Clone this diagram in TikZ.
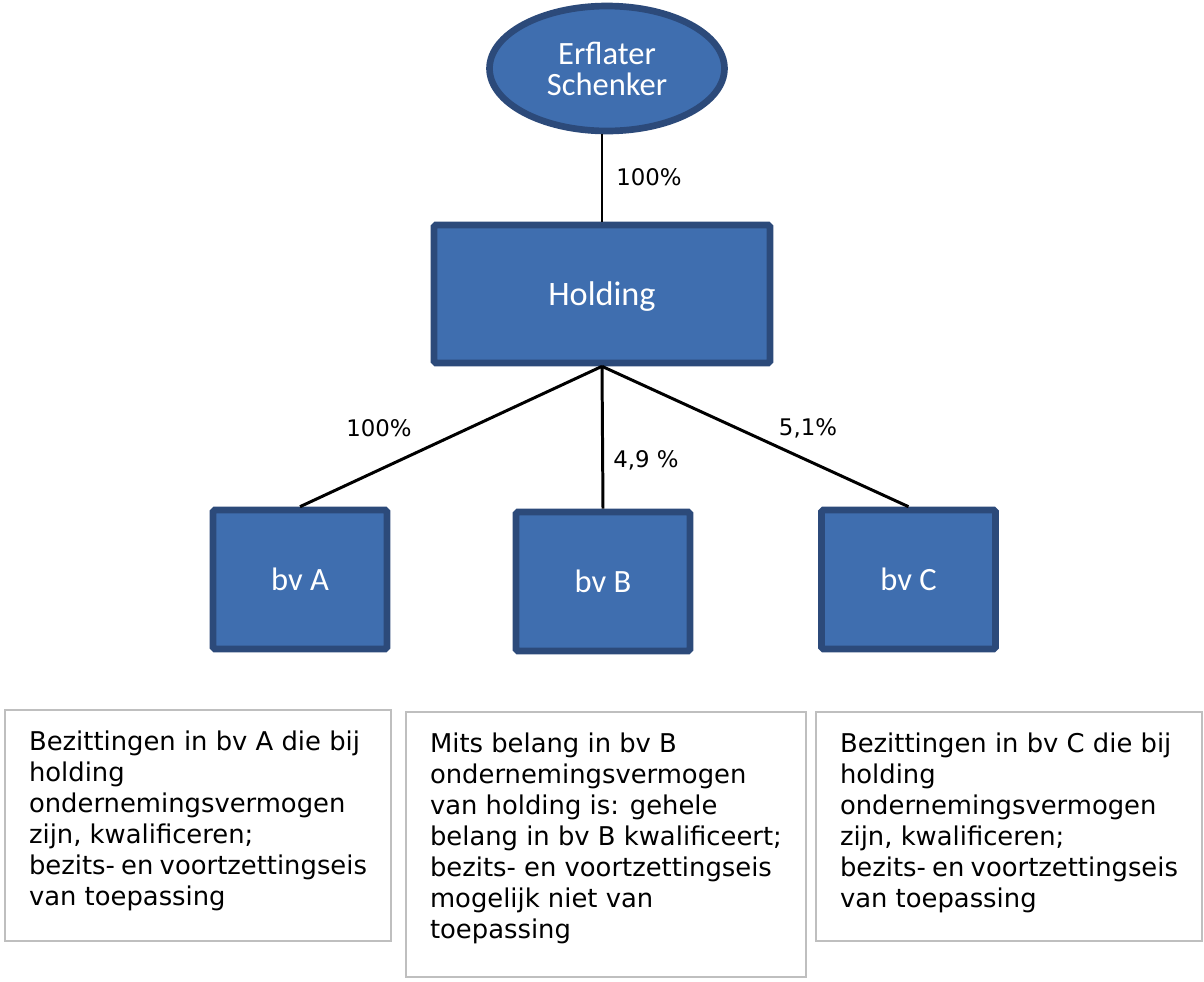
\documentclass[tikz,border=0pt]{standalone}
\usepackage{fontspec}
\setmainfont{DejaVu Sans}
\newfontfamily\knotenfont{Carlito}
\usetikzlibrary{shapes.geometric}

\definecolor{knotenblau}{RGB}{63,110,175}
\definecolor{randblau}{RGB}{44,74,122}
\definecolor{randgrau}{RGB}{191,191,191}

\begin{document}
\begin{tikzpicture}[x=0.02cm, y=-0.02cm,
        einheit/.style={draw=randblau, fill=knotenblau, line width=3.8pt, rounded corners=1pt, inner sep=0pt,
            text=white, font=\knotenfont\fontsize{18.5}{17.6}\selectfont},
        verbindung/.style={line width=1.7pt},
        anteil/.style={font=\fontsize{13}{15}\selectfont},
        hinweis/.style={draw=randgrau, line width=1.2pt, anchor=north west, inner xsep=0.48cm, inner ysep=0.42cm,
            font=\fontsize{14.7}{17.6}\selectfont}]
    \useasboundingbox (0, 0) rectangle (1204, 981);

    % Erblasser und Holding
    \node[einheit, ellipse, minimum width=4.7cm, minimum height=2.5cm, align=center, text depth=0pt] (erflater) at (607, 68.5) {Erflater\\Schenker};
    \node[einheit, minimum width=6.72cm, minimum height=2.76cm, text depth=0pt, font=\knotenfont\fontsize{19.5}{20}\selectfont] (holding) at (602, 294) {Holding};

    % Tochtergesellschaften
    \node[einheit, minimum width=3.48cm, minimum height=2.78cm] (bvA) at (300, 579.5) {bv A};
    \node[einheit, minimum width=3.48cm, minimum height=2.78cm] (bvB) at (603, 581.5) {bv B};
    \node[einheit, minimum width=3.48cm, minimum height=2.78cm] (bvC) at (908.5, 579.5) {bv C};

    % Beteiligungen
    \draw[verbindung] (holding.north) -- (holding.north |- erflater.south);
    \draw[verbindung] (holding.south) -- (bvA.north);
    \draw[verbindung] (holding.south) -- (bvB.north);
    \draw[verbindung] (holding.south) -- (bvC.north);
    \node[anteil] (pErflater) at (649, 177) {100\%};
    \node[anteil] (pA) at (379, 428) {100\%};
    \node[anteil] (pB) at (646, 460) {4,9 \%};
    \node[anteil] (pC) at (808, 428) {5,1\%};

    % Erlaeuterungen
    \node[hinweis] (infoA) at (4, 709) {\parbox[t][3.78cm][t]{6.76cm}{Bezittingen in bv A die bij\\ holding\\ ondernemingsvermogen\\ zijn, kwalificeren;\\ bezits- en voortzettingseis\\ van toepassing}};
    \node[hinweis] (infoB) at (405, 711) {\parbox[t][4.46cm][t]{7.04cm}{Mits belang in bv B\\ ondernemingsvermogen\\ van holding is: gehele\\ belang in bv B kwalificeert;\\ bezits- en voortzettingseis\\ mogelijk niet van\\ toepassing}};
    \node[hinweis] (infoC) at (815, 711) {\parbox[t][3.74cm][t]{6.76cm}{Bezittingen in bv C die bij\\ holding\\ ondernemingsvermogen\\ zijn, kwalificeren;\\ bezits- en voortzettingseis\\ van toepassing}};
\end{tikzpicture}
\end{document}
